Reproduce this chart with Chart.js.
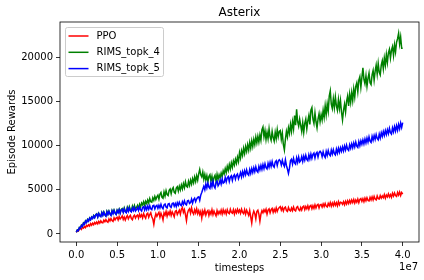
<!DOCTYPE html>
<html>
<head>
<meta charset="utf-8">
<script src="https://cdn.jsdelivr.net/npm/chart.js@4.4.0/dist/chart.umd.min.js"></script>
<style>
  html, body { margin: 0; padding: 0; background: #fff; }
  canvas { display: block; }
</style>
</head>
<body>
<canvas id="grafico" width="424" height="280"></canvas>
<script>
const passo = 125000;

const ppo = [
    200, 380, 330, 560, 640, 520, 760, 660, 850, 720, 980, 860, 1050, 900, 1170, 1000, 1230, 1060, 1300, 1140,
    1350, 1150, 1420, 1220, 1480, 1300, 1260, 1560, 1380, 1620, 1420, 1330, 1700, 1480, 1750, 1520, 1420, 1820, 1590, 1800,
    1900, 1600, 1980, 1700, 1850, 2050, 1650, 1920, 1580, 1880, 2080, 1700, 1950, 2100, 1750, 1620, 2000, 2120, 1800, 2050,
    2150, 1800, 2250, 1950, 2180, 1820, 2300, 2000, 1780, 2250, 2350, 1900, 2200, 2400, 1950, 1700, 1100, 1850, 2300, 2000,
    2250, 2450, 1900, 2350, 2050, 1600, 2400, 2150, 2550, 2000, 2450, 2200, 2600, 2100, 2500, 2250, 1950, 2550, 2650, 2200,
    2450, 2700, 2250, 2800, 3000, 2450, 2750, 2200, 1500, 2350, 2700, 2850, 2350, 2950, 2450, 2250, 2750, 2400, 2850, 2300,
    2650, 2200, 2550, 1800, 2600, 2250, 2700, 2150, 2500, 2650, 2100, 2550, 2250, 2750, 2200, 2600, 2300, 2050, 2650, 2250,
    2550, 2300, 2700, 2250, 2750, 2350, 2650, 2250, 2750, 2400, 2300, 2800, 2450, 2350, 2750, 2250, 2700, 2400, 2800, 2450,
    2700, 2350, 2800, 2450, 2300, 2750, 2250, 2700, 2400, 2100, 2650, 1950, 1250, 2200, 2600, 2300, 1700, 2550, 2700, 2250,
    1450, 2250, 2650, 2400, 2750, 2500, 2800, 2250, 2700, 2850, 2400, 2750, 2900, 2450, 2800, 2500, 2950, 2550, 2850, 3000,
    3100, 2700, 3000, 2600, 2950, 3050, 2650, 2550, 3000, 2700, 2600, 2950, 2650, 3050, 2700, 2600, 3000, 3100, 2750, 2650,
    3000, 2700, 3050, 3150, 2750, 3100, 2850, 3200, 2800, 3150, 3250, 2850, 3200, 2900, 3300, 2950, 3250, 3350, 2950, 3300,
    3350, 3050, 3400, 3100, 3450, 3150, 3050, 3450, 3200, 3550, 3150, 3500, 3200, 3600, 3250, 3550, 3200, 3650, 3300, 3600,
    3550, 3350, 3650, 3300, 3700, 3400, 3750, 3450, 3800, 3500, 3850, 3550, 3900, 3500, 3850, 3600, 3950, 3550, 3900, 4000,
    3700, 4000, 3650, 4050, 3750, 4100, 3800, 3750, 4150, 3850, 4200, 3850, 4250, 3950, 3850, 4300, 4000, 3950, 4350, 4050,
    4300, 4100, 4450, 4050, 4400, 4200, 4550, 4200, 4450, 4150, 4600, 4300, 4650, 4350, 4250, 4700, 4400, 4750, 4350, 4700,
    4500
];

const rimsTopk4 = [
    200, 470, 400, 750, 680, 1000, 880, 1250, 1130, 1480, 1330, 1650, 1480, 1820, 1630, 1930, 1780, 2090, 1880, 2180,
    2280, 1940, 2340, 2100, 2000, 2450, 2150, 2500, 2200, 2060, 2560, 2250, 2610, 2300, 2170, 2660, 2350, 2710, 2400, 2260,
    2700, 2450, 2800, 2400, 2780, 2880, 2520, 2950, 2600, 2500, 3020, 2680, 3100, 2750, 2650, 3150, 2800, 3220, 2850, 3000,
    3250, 2850, 3350, 3050, 3500, 3300, 3650, 3250, 3700, 3450, 3850, 3500, 4000, 3650, 3600, 4100, 3800, 4250, 3900, 4200,
    4400, 3950, 4500, 4700, 4150, 4050, 4750, 4300, 4900, 4450, 4350, 4950, 5100, 4550, 5050, 5250, 4700, 4600, 5200, 5350,
    4850, 5400, 5000, 5550, 5100, 5700, 5250, 5900, 5400, 5300, 5950, 5500, 6100, 5650, 6250, 5800, 6450, 5950, 6600, 6100,
    6800, 7300, 6700, 6450, 7000, 6200, 6750, 6100, 6600, 5900, 6500, 6700, 6000, 6550, 5800, 6400, 6650, 5950, 6750, 6200,
    6700, 6350, 6900, 6500, 7150, 6800, 7400, 6950, 7650, 7200, 7850, 7350, 8050, 7550, 8250, 7800, 8450, 8000, 8700, 8200,
    9200, 8600, 9400, 8900, 9700, 9100, 9900, 9350, 10100, 9500, 10350, 9700, 10550, 9900, 10700, 10100, 10950, 10300, 11050, 10400,
    11200, 10600, 11800, 12100, 11000, 11700, 10700, 11500, 10800, 11900, 11000, 10600, 11600, 10900, 10500, 11500, 10800, 11800, 11000, 11600,
    11700, 10700, 11400, 10100, 9500, 10700, 11600, 11000, 12000, 11400, 12400, 11600, 12700, 11900, 13400, 12300, 14100, 12700, 12200, 13000,
    12300, 11600, 12600, 11500, 12500, 13000, 11900, 12800, 13400, 12400, 14000, 14300, 13000, 12500, 13700, 12700, 12000, 13000, 13600, 12700,
    13500, 12900, 14000, 13200, 14500, 13500, 14700, 13900, 15600, 16200, 14700, 14200, 15300, 14300, 15500, 14500, 14000, 15200, 14200, 15100,
    13800, 12900, 14000, 14700, 13800, 15000, 15600, 14500, 15800, 14900, 16000, 15100, 16400, 15500, 16700, 17100, 16100, 17400, 17800, 16600,
    17700, 18800, 17500, 17000, 17900, 16700, 17600, 18200, 17100, 16900, 18000, 18500, 17400, 18400, 19100, 18100, 19300, 18300, 18000, 19100,
    19600, 18700, 19900, 19100, 20300, 19400, 20500, 20900, 19900, 20800, 21200, 20200, 21400, 20600, 21700, 22100, 22700, 21500, 22300, 21000,
    21000
];

const rimsTopk5 = [
    200, 450, 380, 720, 650, 980, 850, 1220, 1100, 1450, 1300, 1620, 1450, 1780, 1600, 1900, 1750, 2050, 1850, 2150,
    2250, 1900, 2300, 2050, 1950, 2400, 2100, 2450, 2150, 2000, 2500, 2200, 2550, 2250, 2100, 2600, 2300, 2650, 2350, 2200,
    2650, 2400, 2750, 2350, 2700, 2800, 2450, 2850, 2500, 2400, 2900, 2550, 2950, 2600, 2500, 2950, 2650, 3000, 2600, 2750,
    3000, 2650, 3050, 2750, 2600, 3000, 3100, 2700, 3100, 2750, 3150, 2800, 3200, 2850, 2750, 3200, 3250, 2850, 3150, 3250,
    2900, 3250, 2950, 3350, 3000, 2850, 3300, 3400, 3050, 2950, 3400, 3450, 3100, 3000, 3450, 3500, 3150, 3450, 3100, 3550,
    3250, 3600, 3300, 3200, 3650, 3350, 3750, 3400, 3300, 3750, 3800, 3450, 3550, 3950, 3500, 3900, 4050, 3650, 3950, 4150,
    4200, 3800, 4400, 4700, 5050, 5400, 5000, 5650, 5200, 5750, 5300, 5150, 5800, 5350, 5950, 5400, 5200, 5850, 6000, 5450,
    5650, 6100, 5650, 6250, 5750, 5850, 6400, 5900, 6350, 6500, 5950, 6450, 6600, 6050, 6550, 6700, 6200, 6650, 6800, 6250,
    6550, 6950, 6450, 7050, 6600, 7150, 6700, 7250, 6800, 6650, 7300, 6850, 7400, 6950, 7500, 7050, 7600, 7150, 7000, 7650,
    7250, 7750, 7300, 7850, 7400, 7950, 7500, 7350, 8000, 7550, 8100, 7650, 8200, 7700, 7550, 8150, 8300, 7750, 8250, 8400,
    8250, 7800, 8350, 7900, 7650, 8400, 7750, 7350, 6850, 7450, 8300, 8450, 7900, 8550, 8050, 7900, 8600, 8100, 8700, 8150,
    8300, 8750, 8200, 8800, 8350, 8900, 8450, 8300, 8950, 8500, 9050, 8550, 9000, 9150, 8600, 9100, 9250, 8700, 9200, 9350,
    9200, 8750, 9300, 8850, 8650, 9350, 8900, 9450, 9000, 8850, 9500, 9050, 9550, 9100, 8950, 9600, 9150, 9700, 9250, 9750,
    9350, 9850, 9400, 9950, 9500, 10050, 9600, 9450, 10100, 9700, 10200, 9750, 10300, 9850, 10400, 9950, 9800, 10450, 10000, 10550,
    10150, 10650, 10200, 10750, 10300, 10850, 10400, 11000, 10500, 10350, 11050, 10600, 11150, 10700, 11250, 10800, 10650, 11300, 10850, 11450,
    11050, 11600, 11150, 11700, 11250, 11800, 11350, 11950, 11450, 11300, 12000, 11550, 12150, 11650, 12250, 11750, 12400, 11900, 12550, 12050,
    12600
];

const xTicks = [0, 5e6, 1e7, 1.5e7, 2e7, 2.5e7, 3e7, 3.5e7, 4e7];
const yTicks = [0, 5000, 10000, 15000, 20000];

const passos = ppo.map((v, i) => i * passo);

function pontos(serie) {
    return serie.map((v, i) => ({ x: passos[i], y: v }));
}

const fonte = '"DejaVu Sans", sans-serif';

// moldura, legenda e o "1e7" do eixo x
const extras = {
    id: 'extras',
    afterDraw(chart) {
        const ctx = chart.ctx;
        const area = chart.chartArea;
        ctx.save();
        ctx.strokeStyle = '#000';
        ctx.lineWidth = 0.8;
        ctx.strokeRect(area.left, area.top, area.right - area.left, area.bottom - area.top);

        // legenda
        const x0 = area.left + 5.5;
        const y0 = area.top + 5.5;
        ctx.beginPath();
        ctx.roundRect(x0, y0, 98, 49, 2);
        ctx.fillStyle = 'rgba(255,255,255,0.8)';
        ctx.fill();
        ctx.strokeStyle = '#cccccc';
        ctx.lineWidth = 1;
        ctx.stroke();

        ctx.font = '10px ' + fonte;
        ctx.textBaseline = 'middle';
        ctx.textAlign = 'left';
        chart.data.datasets.forEach((ds, i) => {
            const y = y0 + 8.5 + i * 16.3;
            ctx.beginPath();
            ctx.moveTo(x0 + 3, y);
            ctx.lineTo(x0 + 23, y);
            ctx.strokeStyle = ds.borderColor;
            ctx.lineWidth = 1.5;
            ctx.stroke();
            ctx.fillStyle = '#000';
            ctx.fillText(ds.label, x0 + 31, y);
        });

        ctx.textAlign = 'right';
        ctx.fillText('1e7', area.right - 1, 267);
        ctx.restore();
    }
};

const grafico = new Chart(document.getElementById('grafico').getContext('2d'), {
    type: 'line',
    data: {
        datasets: [
            { label: 'PPO', data: pontos(ppo), borderColor: '#ff0000', order: 3 },
            { label: 'RIMS_topk_4', data: pontos(rimsTopk4), borderColor: '#008000', order: 2 },
            { label: 'RIMS_topk_5', data: pontos(rimsTopk5), borderColor: '#0000ff', order: 1 }
        ]
    },
    options: {
        responsive: false,
        animation: false,
        events: [],
        elements: {
            point: { radius: 0 },
            line: { borderWidth: 1.5, tension: 0, fill: false }
        },
        layout: { padding: { left: 0, right: 5, top: 0, bottom: 0 } },
        plugins: {
            legend: { display: false },
            tooltip: { enabled: false },
            title: {
                display: true,
                text: 'Asterix',
                fullSize: false,
                color: '#000',
                font: { family: fonte, size: 12, weight: 'normal', lineHeight: 1.25 },
                padding: { top: 5, bottom: 2 }
            }
        },
        scales: {
            x: {
                type: 'linear',
                min: -2e6,
                max: 4.2e7,
                afterBuildTicks: (scale) => { scale.ticks = xTicks.map(v => ({ value: v })); },
                afterFit: (scale) => { scale.height = 38; },
                ticks: {
                    color: '#000',
                    padding: 3,
                    maxRotation: 0,
                    font: { family: fonte, size: 10 },
                    callback: (v) => (v / 1e7).toFixed(1)
                },
                grid: { drawOnChartArea: false, drawTicks: true, tickLength: 4, color: '#000', lineWidth: 0.8 },
                border: { display: false },
                title: {
                    display: true,
                    text: 'timesteps',
                    color: '#000',
                    font: { family: fonte, size: 10 },
                    padding: { top: 0, bottom: 6 }
                }
            },
            y: {
                type: 'linear',
                min: -905,
                max: 23982,
                afterBuildTicks: (scale) => { scale.ticks = yTicks.map(v => ({ value: v })); },
                afterFit: (scale) => { scale.width = 60; },
                ticks: {
                    color: '#000',
                    padding: 3,
                    font: { family: fonte, size: 10 },
                    callback: (v) => String(v)
                },
                grid: { drawOnChartArea: false, drawTicks: true, tickLength: 4, color: '#000', lineWidth: 0.8 },
                border: { display: false },
                title: {
                    display: true,
                    text: 'Episode Rewards',
                    color: '#000',
                    font: { family: fonte, size: 10 },
                    padding: { top: 6, bottom: 0 }
                }
            }
        }
    },
    plugins: [extras]
});
</script>
</body>
</html>
